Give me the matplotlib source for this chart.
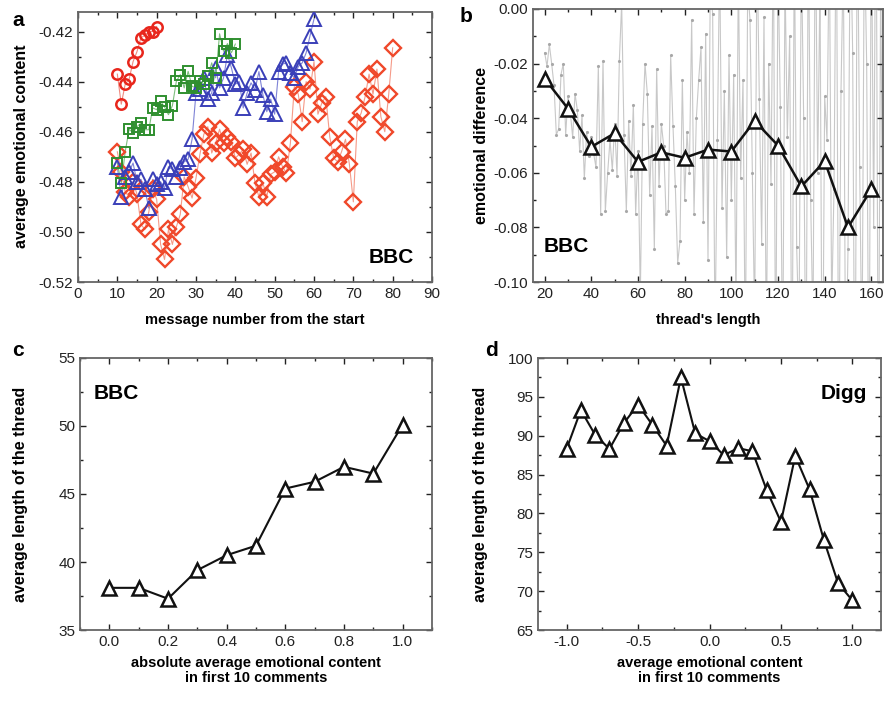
import numpy as np
import matplotlib
matplotlib.use("Agg")
import matplotlib.pyplot as plt
from matplotlib.ticker import MultipleLocator, FuncFormatter

plt.rcParams['font.family'] = ['Liberation Sans', 'DejaVu Sans']

# ---------------- data: panel a ----------------
circ_x = list(range(10, 21))
circ_y = [-0.437, -0.449, -0.441, -0.439, -0.432, -0.428, -0.4225, -0.4215, -0.420, -0.420, -0.418]

sq_x = list(range(10, 41))
sq_y = [-0.4725, -0.4805, -0.468, -0.459, -0.4605, -0.458, -0.4565, -0.4592, -0.4592, -0.4505,
        -0.4512, -0.4479, -0.4501, -0.4532, -0.4496, -0.4399, -0.4372, -0.4425, -0.4359, -0.4419,
        -0.4425, -0.4396, -0.4410, -0.4379, -0.4325, -0.4385, -0.4209, -0.4279, -0.4248, -0.4285, -0.4250]

tri_x = list(range(10, 61))
tri_y = [-0.474, -0.486, -0.478, -0.476, -0.4725, -0.480, -0.479, -0.483, -0.4905, -0.479,
         -0.481, -0.480, -0.4825, -0.474, -0.475, -0.478, -0.4745, -0.472, -0.471, -0.463,
         -0.4445, -0.443, -0.4385, -0.447, -0.4445, -0.4345, -0.4425, -0.4385, -0.4292, -0.4345,
         -0.441, -0.440, -0.4505, -0.4445, -0.4405, -0.4432, -0.436, -0.4452, -0.452, -0.447,
         -0.453, -0.436, -0.433, -0.4325, -0.4365, -0.4385, -0.434, -0.4325, -0.4285, -0.4216, -0.415]

dia_x = list(range(10, 81))
dia_y = [-0.468, -0.476, -0.484, -0.486, -0.480, -0.485, -0.497, -0.499, -0.492, -0.483,
         -0.487, -0.505, -0.511, -0.499, -0.505, -0.498, -0.493, -0.478, -0.482, -0.4865,
         -0.4785, -0.469, -0.461, -0.458, -0.4685, -0.4645, -0.459, -0.4645, -0.462, -0.464,
         -0.4705, -0.469, -0.467, -0.473, -0.4685, -0.4805, -0.486, -0.4805, -0.486, -0.477,
         -0.476, -0.470, -0.474, -0.4765, -0.4645, -0.442, -0.445, -0.456, -0.440, -0.443,
         -0.432, -0.453, -0.4485, -0.446, -0.462, -0.4705, -0.472, -0.468, -0.463, -0.473,
         -0.488, -0.456, -0.4525, -0.446, -0.437, -0.445, -0.435, -0.454, -0.460, -0.445, -0.4265]

# ---------------- data: panel b ----------------
noise_x = list(range(20, 166))
noise_y = [-0.016, -0.021, -0.013, -0.020, -0.028, -0.046, -0.044, -0.024, -0.020, -0.046,
           -0.032, -0.038, -0.047, -0.031, -0.037, -0.052, -0.039, -0.062, -0.045, -0.054,
           -0.047, -0.053, -0.058, -0.021, -0.075, -0.019, -0.074, -0.060, -0.048, -0.059,
           -0.042, -0.061, -0.019, 0.002, -0.046, -0.074, -0.041, -0.061, -0.035, -0.075,
           -0.052, -0.105, -0.042, -0.020, -0.031, -0.068, -0.043, -0.088, -0.022, -0.065,
           -0.042, -0.050, -0.075, -0.074, -0.017, -0.043, -0.065, -0.093, -0.085, -0.026,
           -0.070, -0.045, -0.060, -0.004, -0.075, -0.040,
           -0.026, -0.014, -0.078, -0.009, -0.092, 0.010, -0.002, -0.120, -0.048, 0.020,
           -0.073, -0.030, -0.091, -0.017, -0.070, -0.024, -0.110, 0.015, -0.062, -0.026,
           -0.130, 0.008, -0.004, -0.060, -0.115, 0.025, -0.033, -0.086, -0.003, -0.125,
           -0.020, -0.064, 0.030, -0.140, 0.018, -0.036, -0.135, 0.012, -0.047, -0.010,
           -0.150, 0.030, -0.087, -0.120, 0.022, -0.040, -0.145, 0.035, -0.070, -0.118,
           0.040, -0.060, 0.010, -0.160, -0.032, -0.048, 0.028, -0.110, -0.066, 0.045,
           -0.150, -0.030, 0.020, -0.140, -0.088, 0.035, -0.016, -0.170, 0.050, -0.058,
           -0.130, 0.030, -0.020, -0.155, 0.040, -0.080, 0.060, -0.160, 0.010, -0.100]

bin_x = [20, 30, 40, 50, 60, 70, 80, 90, 100, 110, 120, 130, 140, 150, 160]
bin_y = [-0.0255, -0.0365, -0.0505, -0.0455, -0.056, -0.0525, -0.0545, -0.0515, -0.0522,
         -0.041, -0.050, -0.065, -0.0557, -0.080, -0.066]

# ---------------- data: panel c ----------------
c_x = [0.0, 0.1, 0.2, 0.3, 0.4, 0.5, 0.6, 0.7, 0.8, 0.9, 1.0]
c_y = [38.1, 38.1, 37.3, 39.4, 40.5, 41.2, 45.4, 45.9, 47.0, 46.5, 50.1]

# ---------------- data: panel d ----------------
d_x = [-1.0, -0.9, -0.8, -0.7, -0.6, -0.5, -0.4, -0.3, -0.2, -0.1, 0.0,
       0.1, 0.2, 0.3, 0.4, 0.5, 0.6, 0.7, 0.8, 0.9, 1.0]
d_y = [88.3, 93.3, 90.1, 88.3, 91.6, 94.0, 91.4, 88.7, 97.5, 90.3, 89.3,
       87.5, 88.4, 88.0, 83.0, 78.9, 87.4, 83.1, 76.6, 71.0, 68.8]

W, H = 889, 703
fig = plt.figure(figsize=(W / 100, H / 100), dpi=100)


def box(l, t, r, b):
    return [l / W, 1 - b / H, (r - l) / W, (b - t) / H]


axa = fig.add_axes(box(78, 11.5, 432, 282))
axb = fig.add_axes(box(533, 9, 883, 282))
axc = fig.add_axes(box(80, 358, 432, 630))
axd = fig.add_axes(box(538, 358, 881, 630))

TICK_FS = 11
XLAB_FS = 10.5
YLAB_FS = 11.5


def fmt(nd):
    def f(v, pos):
        s = f"{v:.{nd}f}"
        if s.startswith('-') and float(s) == 0:
            s = s[1:]
        return s
    return FuncFormatter(f)


def style(ax):
    ax.tick_params(which='both', direction='in', top=True, right=True, labelsize=TICK_FS,
                   colors='#222222', width=1.0)
    ax.tick_params(which='major', length=4)
    ax.tick_params(which='minor', length=2.5)
    for s in ax.spines.values():
        s.set_color('#666666')
        s.set_linewidth(1.3)


# panel a
red_c = '#e8261c'
red_d = '#f0482a'
blue = '#3a3fb8'
green = '#2f8f2f'
axa.plot(circ_x, circ_y, '-', color='#f08a80', lw=0.8, zorder=2)
axa.plot(dia_x, dia_y, '-', color='#f59a88', lw=0.8, zorder=2)
axa.plot(tri_x, tri_y, '-', color='#7f83d6', lw=0.8, zorder=2)
axa.plot(sq_x, sq_y, '-', color='#7fbf7f', lw=0.8, zorder=2)
axa.plot(dia_x, dia_y, 'D', mfc='none', mec=red_d, ms=8, mew=1.7, ls='none', zorder=3)
axa.plot(tri_x, tri_y, '^', mfc='none', mec=blue, ms=9.5, mew=1.4, ls='none', zorder=3)
axa.plot(sq_x, sq_y, 's', mfc='none', mec=green, ms=7.5, mew=1.4, ls='none', zorder=3)
axa.plot(circ_x, circ_y, 'o', mfc='none', mec=red_c, ms=7.5, mew=1.8, ls='none', zorder=3)
axa.set_xlim(0, 90)
axa.set_ylim(-0.52, -0.412)
axa.xaxis.set_major_locator(MultipleLocator(10))
axa.xaxis.set_minor_locator(MultipleLocator(5))
axa.yaxis.set_major_locator(MultipleLocator(0.02))
axa.yaxis.set_minor_locator(MultipleLocator(0.01))
axa.yaxis.set_major_formatter(fmt(2))
style(axa)
axa.set_xlabel('message number from the start', fontsize=XLAB_FS, fontweight='bold', labelpad=9)
axa.set_ylabel('average emotional content', fontsize=YLAB_FS, fontweight='bold', labelpad=7)
axa.text(0.95, 0.09, 'BBC', transform=axa.transAxes, fontsize=15, fontweight='bold',
         ha='right', va='center')

# panel b
axb.plot(noise_x, noise_y, '-', color='#c8c8c8', lw=0.8, zorder=1)
axb.plot(noise_x, noise_y, '.', color='#a8a8a8', ms=2.5, zorder=1)
axb.plot(bin_x, bin_y, '-', color='#111111', lw=1.8, zorder=3)
axb.plot(bin_x, bin_y, '^', mfc='white', mec='#111111', ms=10, mew=1.8, ls='none', zorder=4)
axb.set_xlim(15, 165)
axb.set_ylim(-0.10, 0.0)
axb.xaxis.set_major_locator(MultipleLocator(20))
axb.xaxis.set_minor_locator(MultipleLocator(10))
axb.yaxis.set_major_locator(MultipleLocator(0.02))
axb.yaxis.set_minor_locator(MultipleLocator(0.01))
axb.yaxis.set_major_formatter(fmt(2))
style(axb)
axb.set_xlabel("thread's length", fontsize=XLAB_FS, fontweight='bold', labelpad=9)
axb.set_ylabel('emotional difference', fontsize=YLAB_FS, fontweight='bold', labelpad=3)
axb.text(0.03, 0.13, 'BBC', transform=axb.transAxes, fontsize=15, fontweight='bold',
         ha='left', va='center')

# panel c
axc.plot(c_x, c_y, '-', color='#111111', lw=1.5, zorder=2)
axc.plot(c_x, c_y, '^', mfc='white', mec='#111111', ms=10, mew=1.8, ls='none', zorder=3)
axc.set_xlim(-0.1, 1.1)
axc.set_ylim(35, 55)
axc.xaxis.set_major_locator(MultipleLocator(0.2))
axc.xaxis.set_minor_locator(MultipleLocator(0.1))
axc.yaxis.set_major_locator(MultipleLocator(5))
axc.yaxis.set_minor_locator(MultipleLocator(2.5))
axc.xaxis.set_major_formatter(fmt(1))
style(axc)
axc.set_xlabel('absolute average emotional content\nin first 10 comments', fontsize=XLAB_FS,
               fontweight='bold', labelpad=5, linespacing=1.15)
axc.set_ylabel('average length of the thread', fontsize=YLAB_FS, fontweight='bold', labelpad=22)
axc.text(0.04, 0.87, 'BBC', transform=axc.transAxes, fontsize=15, fontweight='bold',
         ha='left', va='center')

# panel d
axd.plot(d_x, d_y, '-', color='#111111', lw=1.5, zorder=2)
axd.plot(d_x, d_y, '^', mfc='white', mec='#111111', ms=10, mew=1.8, ls='none', zorder=3)
axd.set_xlim(-1.2, 1.2)
axd.set_ylim(65, 100)
axd.xaxis.set_major_locator(MultipleLocator(0.5))
axd.xaxis.set_minor_locator(MultipleLocator(0.25))
axd.yaxis.set_major_locator(MultipleLocator(5))
axd.yaxis.set_minor_locator(MultipleLocator(2.5))
axd.xaxis.set_major_formatter(fmt(1))
style(axd)
axd.set_xlabel('average emotional content\nin first 10 comments', fontsize=XLAB_FS,
               fontweight='bold', labelpad=5, linespacing=1.15)
axd.set_ylabel('average length of the thread', fontsize=YLAB_FS, fontweight='bold', labelpad=14)
axd.text(0.96, 0.87, 'Digg', transform=axd.transAxes, fontsize=15, fontweight='bold',
         ha='right', va='center')

# panel letters
for lab, (px, py) in {'a': (18, 20), 'b': (466, 16), 'c': (18, 350), 'd': (492, 350)}.items():
    fig.text(px / W, 1 - py / H, lab, fontsize=15, fontweight='bold', ha='center', va='center')

fig.savefig('out.png', dpi=100)
